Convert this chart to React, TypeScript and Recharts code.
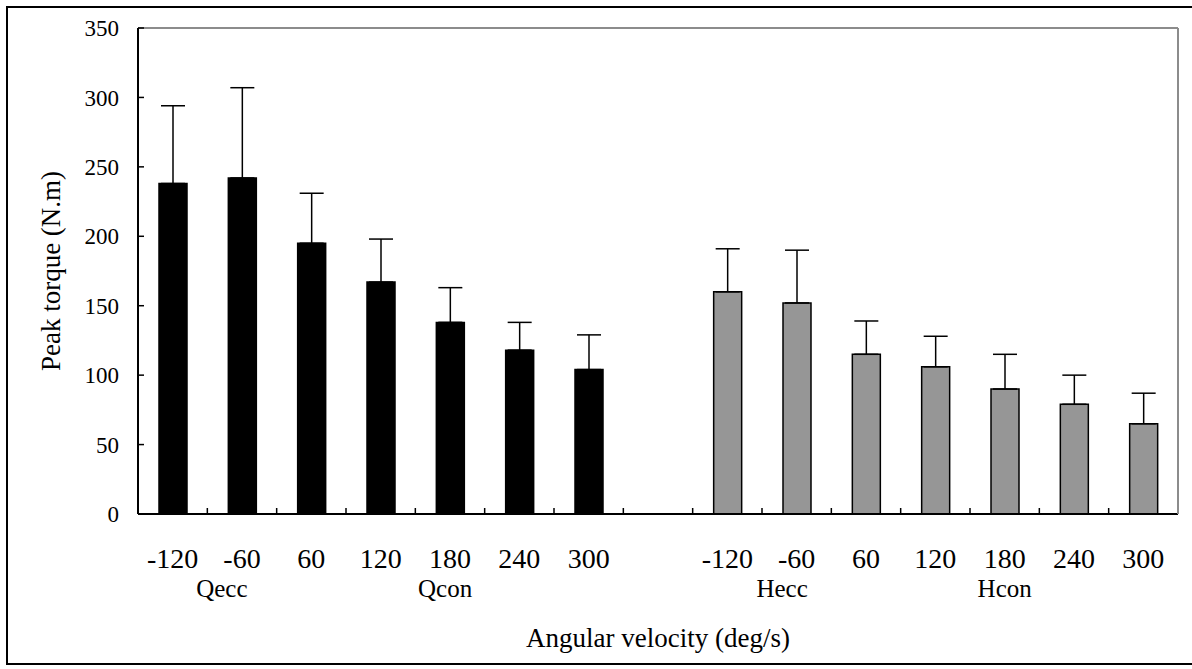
import {
    BarChart,
    Bar,
    Cell,
    XAxis,
    YAxis,
    ErrorBar
} from "recharts";

// Valeurs (N.m), 7 vitesses par groupe, un trou au milieu
const speedLabels = ["-120", "-60", "60", "120", "180", "240", "300", "", "-120", "-60", "60", "120", "180", "240", "300"];
const meanTorque = [238, 242, 195, 167, 138, 118, 104, null, 160, 152, 115, 106, 90, 79, 65];
const sdTorque = [56, 65, 36, 31, 25, 20, 25, null, 31, 38, 24, 22, 25, 21, 22];
const muscle = ["Q", "Q", "Q", "Q", "Q", "Q", "Q", "", "H", "H", "H", "H", "H", "H", "H"];

// libellés de groupe et leur position sur l'axe (en unités de catégorie)
const groupLabels = ["Qecc", "Qcon", "Hecc", "Hcon"];
const groupAt = [1.21, 4.43, 9.29, 12.5];

const yTicks = [0, 50, 100, 150, 200, 250, 300, 350];

const FONT = "'Liberation Serif', 'Times New Roman', serif";

const chartData = meanTorque.map((v, i) => ({
    pos: i + 0.5,
    torque: v,
    err: sdTorque[i] == null ? null : [0, sdTorque[i]],
    muscle: muscle[i]
}));

const centers = chartData.map(d => d.pos);
const bounds = centers.slice(1).map(c => c - 0.5);

function SpeedTick(props: any) {
    const { x, y, payload } = props;
    const label = speedLabels[Math.round(payload.value - 0.5)];
    return (
        <text x={x} y={y} textAnchor="middle" fontFamily={FONT} fontSize={28} fill="#000">
            {label}
        </text>
    );
}

function GroupTick(props: any) {
    const { x, y, payload } = props;
    const idx = groupAt.indexOf(payload.value);
    return (
        <text x={x} y={y} textAnchor="middle" fontFamily={FONT} fontSize={25} fill="#000">
            {groupLabels[idx]}
        </text>
    );
}

// graduation sans texte (on garde seulement le trait)
const NoLabel = () => <g />;

export default function App() {
    return (
        <div style={{ position: "absolute", left: 0, top: 0, width: 1192, height: 669, background: "#fff", overflow: "hidden" }}>
            {/* cadre extérieur */}
            <div
                style={{
                    position: "absolute",
                    left: 6,
                    top: 6,
                    width: 1192,
                    height: 659,
                    boxSizing: "border-box",
                    border: "2px solid #000"
                }}
            />
            <div style={{ position: "absolute", left: 0, top: 0 }}>
                <BarChart
                    width={1192}
                    height={669}
                    data={chartData}
                    margin={{ top: 27, right: 13, left: 0, bottom: 152 }}
                >
                    {/* axe du bas : ligne + graduations aux limites de catégories */}
                    <XAxis
                        xAxisId="b"
                        dataKey="pos"
                        type="number"
                        domain={[0, 15]}
                        ticks={bounds}
                        interval={0}
                        tick={<NoLabel />}
                        tickSize={-6}
                        height={1}
                        axisLine={{ stroke: "#000", strokeWidth: 2 }}
                        tickLine={{ stroke: "#000", strokeWidth: 1.5 }}
                        label={{
                            value: "Angular velocity (deg/s)",
                            position: "bottom",
                            offset: 113,
                            style: { fontFamily: FONT, fontSize: 27, fill: "#000" }
                        }}
                    />
                    {/* vitesses */}
                    <XAxis
                        xAxisId="lab"
                        dataKey="pos"
                        type="number"
                        domain={[0, 15]}
                        ticks={centers.filter((_, i) => speedLabels[i] !== "")}
                        interval={0}
                        height={1}
                        axisLine={false}
                        tickLine={false}
                        tickSize={0}
                        tickMargin={52}
                        tick={<SpeedTick />}
                    />
                    {/* groupes */}
                    <XAxis
                        xAxisId="grp"
                        dataKey="pos"
                        type="number"
                        domain={[0, 15]}
                        ticks={groupAt}
                        interval={0}
                        height={1}
                        axisLine={false}
                        tickLine={false}
                        tickSize={0}
                        tickMargin={82}
                        tick={<GroupTick />}
                    />
                    {/* cadre gris haut / droite */}
                    <XAxis
                        xAxisId="top"
                        orientation="top"
                        dataKey="pos"
                        type="number"
                        domain={[0, 15]}
                        height={1}
                        tick={false}
                        tickLine={false}
                        axisLine={{ stroke: "#8c8c8c", strokeWidth: 2 }}
                    />
                    <YAxis
                        yAxisId="l"
                        domain={[0, 350]}
                        ticks={yTicks}
                        interval={0}
                        width={138}
                        tickSize={-6}
                        tickMargin={25}
                        axisLine={{ stroke: "#000", strokeWidth: 2 }}
                        tickLine={{ stroke: "#000", strokeWidth: 1.5 }}
                        tick={{ fontFamily: FONT, fontSize: 23, fill: "#000" }}
                        label={{
                            value: "Peak torque (N.m)",
                            angle: -90,
                            position: "insideLeft",
                            offset: 50,
                            style: { fontFamily: FONT, fontSize: 27, fill: "#000", textAnchor: "middle" }
                        }}
                    />
                    <YAxis
                        yAxisId="r"
                        orientation="right"
                        domain={[0, 350]}
                        width={1}
                        tick={false}
                        tickLine={false}
                        axisLine={{ stroke: "#8c8c8c", strokeWidth: 2 }}
                    />
                    <Bar
                        xAxisId="b"
                        yAxisId="l"
                        dataKey="torque"
                        barSize={28}
                        stroke="#000"
                        strokeWidth={1.5}
                        isAnimationActive={false}
                    >
                        {chartData.map((d, i) => (
                            <Cell key={i} fill={d.muscle === "Q" ? "#000" : "#969696"} />
                        ))}
                        <ErrorBar dataKey="err" direction="y" width={12} stroke="#000" strokeWidth={1.5} isAnimationActive={false} />
                    </Bar>
                </BarChart>
            </div>
        </div>
    );
}
